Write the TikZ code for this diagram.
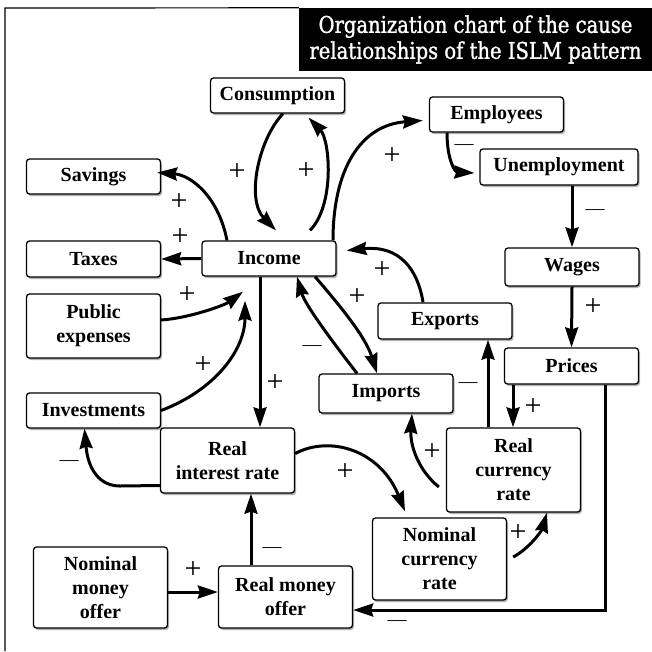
\documentclass[tikz,border=0pt]{standalone}
\usepackage{fontspec}
\setmainfont{Liberation Serif}
\newfontfamily\titlefont[FakeStretch=0.85, FakeBold=1.2]{DejaVu Serif}
\usetikzlibrary{arrows.meta, shadows}

\tikzset{
  box/.style={draw, line width=1.3pt, rounded corners=3pt, fill=white,
    minimum width=134pt, inner sep=0pt, align=center,
    font=\fontsize{20}{24}\selectfont\bfseries,
    drop shadow={shadow xshift=1.5pt, shadow yshift=-2pt, fill=gray!60, opacity=1}},
  cause/.style={line width=3pt, -{Stealth[length=20pt,width=13pt,inset=2pt]}},
  plus/.style={inner sep=0pt, font=\fontsize{30}{30}\selectfont},
  minus/.style={inner sep=0pt, font=\fontsize{19}{19}\selectfont}
}

\begin{document}
\begin{tikzpicture}[x=1pt, y=-1pt]
      \useasboundingbox (0,0) rectangle (652,651);

      % Title and frame
      \node[fill=black, text=white, minimum width=353pt, minimum height=63pt, inner sep=0pt,
        align=center, font=\titlefont\fontsize{23}{26}\selectfont] (title) at (475.5,39.5)
        {Organization chart of the cause\\relationships of the ISLM pattern};
      \draw[line width=1.2pt] (5,651) -- (5,8) -- (title.north west);

      % Boxes of the upper half
      \node[box, minimum height=35pt] (cons) at (277.5,95.5) {Consumption};
      \node[box, minimum height=35pt] (empl) at (496.5,114.5) {Employees};
      \node[box, minimum width=158pt, minimum height=36pt] (unemp) at (559,167) {Unemployment};
      \node[box, minimum height=35pt] (sav) at (93.5,176.5) {Savings};
      \node[box, minimum height=36pt] (tax) at (93.5,259) {Taxes};
      \node[box, minimum height=35pt] (inc) at (269,258.5) {Income};
      \node[box, minimum height=38pt] (wage) at (572,267) {Wages};
      \node[box, minimum height=64pt] (pub) at (93.5,326) {Public\\expenses};
      \node[box, minimum height=36pt] (exp) at (445,321) {Exports};
      \node[box, minimum height=36pt] (pri) at (571.5,366) {Prices};
      \node[box, minimum height=39pt] (imp) at (386,393.5) {Imports};
      \node[box, minimum height=35pt] (inv) at (93.5,410.5) {Investments};

      % Boxes of the lower half
      \node[box, minimum height=65pt] (rir) at (227.5,460.5) {Real\\interest rate};
      \node[box, minimum height=84pt] (rcr) at (513.5,470) {Real\\currency\\rate};
      \node[box, minimum height=82pt] (ncr) at (439.5,559) {Nominal\\currency\\rate};
      \node[box, minimum height=81pt] (nmo) at (100.5,587.5) {Nominal\\money\\offer};
      \node[box, minimum height=62pt] (rmo) at (285.5,597) {Real money\\offer};

      % Arrows round Income
      \draw[cause] ([xshift=5.5pt]cons.south) .. controls (258,140) and (246,200) .. ([xshift=7pt,yshift=10pt]inc.north);
      \draw[cause] ([xshift=41pt,yshift=10pt]inc.north) .. controls (335,205) and (330,140) .. ([xshift=31pt,yshift=-4pt]cons.south);
      \draw[cause] ([xshift=64pt]inc.north) .. controls (333,170) and (360,125) .. ([xshift=-6pt,yshift=-6pt]empl.west);
      \draw[cause] ([xshift=-42pt]inc.north) .. controls (218,195) and (190,175) .. ([xshift=-4pt,yshift=4pt]sav.east);
      \draw[cause] (inc.west) -- (tax.east);
      \draw[cause] ([yshift=6pt]pub.east) .. controls (190,318) and (225,305) .. ([xshift=-26pt,yshift=-15pt]inc.south);
      \draw[cause] (inv.east) .. controls (215,390) and (245,350) .. ([xshift=-24pt,yshift=-24pt]inc.south);
      \draw[cause] ([xshift=-9pt]inc.south) -- ([xshift=-9pt]inc.south |- rir.north);
      \draw[cause] ([xshift=46pt]inc.south) .. controls (335,300) and (365,335) .. ([xshift=-9pt]imp.north);
      \draw[cause] ([xshift=-29pt]imp.north) .. controls (335,345) and (305,305) .. ([xshift=28pt]inc.south);
      \draw[cause] ([xshift=-22pt]exp.north) .. controls (418,270) and (400,245) .. ([xshift=10pt,yshift=8pt]inc.east);

      % Arrows of the labour market and prices
      \draw[cause] ([xshift=-49.5pt]empl.south) .. controls (447,160) and (455,172) .. ([xshift=-5pt,yshift=-6pt]unemp.west);
      \draw[cause] ([xshift=13pt]unemp.south) -- (wage.north);
      \draw[cause] (wage.south) -- (pri.north);
      \draw[cause] ([xshift=-58.5pt]pri.south) -- ([xshift=-58.5pt]pri.south |- rcr.north);
      \draw[cause] ([xshift=33.5pt]pri.south) |- ([yshift=-13pt]rmo.east);

      % Arrows of the rates
      \draw[cause] ([xshift=-25.5pt]rcr.north) -- ([xshift=-25.5pt]rcr.north |- exp.south);
      \draw[cause] ([xshift=-7pt,yshift=-17pt]rcr.west) .. controls (418,470) and (410,445) .. ([xshift=26pt]imp.south);
      \draw[cause] ([yshift=7pt]rir.east) .. controls (330,435) and (380,450) .. ([xshift=-34.5pt,yshift=6pt]ncr.north);
      \draw[cause] ([yshift=-25pt]rir.west) -- (120,486) .. controls (100,486) and (88,470) .. ([xshift=-9pt]inv.south);
      \draw[cause] ([xshift=6pt,yshift=2pt]ncr.east) .. controls (530,548) and (542,530) .. ([xshift=33.5pt]rcr.south);
      \draw[cause] ([xshift=-34.5pt]rmo.north) -- ([xshift=-34.5pt]rmo.north |- rir.south);
      \draw[cause] ([yshift=-4.5pt]nmo.east) -- ([yshift=-4.5pt]nmo.east -| rmo.west);

      % Signs of the causes
      \node[plus] (pcons) at (237,172) {+};
      \node[plus] (pinc) at (306,171) {+};
      \node[plus] (pempl) at (392,156) {+};
      \node[plus] (psav) at (179,202) {+};
      \node[plus] (ptax) at (180,237) {+};
      \node[plus] (ppub) at (187,295) {+};
      \node[plus] (pinv) at (203,365) {+};
      \node[plus] (prir) at (275,383) {+};
      \node[plus] (pimp) at (357,297) {+};
      \node[plus] (pexp) at (382,270) {+};
      \node[plus] (ppri) at (533,407) {+};
      \node[plus] (prcr) at (432,452) {+};
      \node[plus] (pncr) at (345,472) {+};
      \node[plus] (pnom) at (518,533) {+};
      \node[plus] (prmo) at (193,570) {+};
      \node[plus] (pwage) at (593,307) {+};
      \node[minus] (mimp) at (312,348) {—};
      \node[minus] (mexp) at (468,385) {—};
      \node[minus] (minv) at (69,463) {—};
      \node[minus] (mrir) at (272,550) {—};
      \node[minus] (mrmo) at (397,623) {—};
      \node[minus] (mwage) at (595,212) {—};
      \node[minus] (munemp) at (464,147) {—};
    \end{tikzpicture}
\end{document}
